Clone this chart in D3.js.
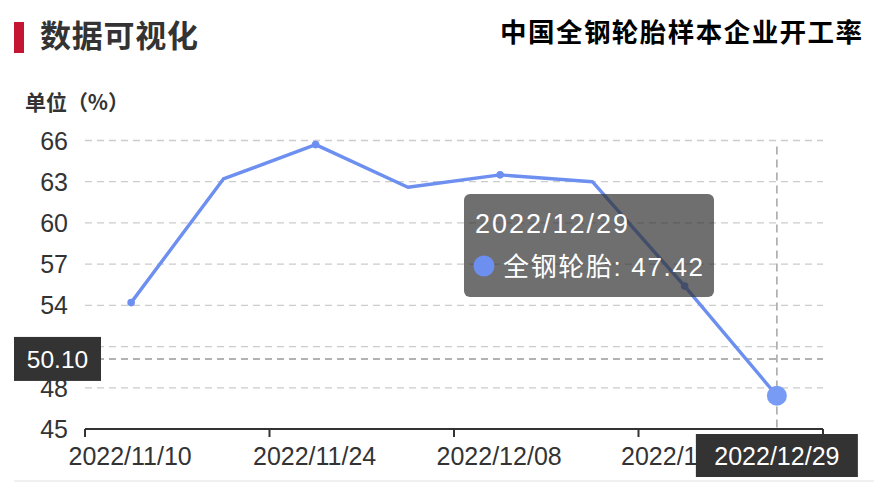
<!DOCTYPE html>
<html><head><meta charset="utf-8">
<script src="https://cdn.jsdelivr.net/npm/d3@7/dist/d3.min.js"></script>
<style>
html,body{margin:0;padding:0;background:#fff;}
svg{display:block;font-family:"Liberation Sans","Noto Sans CJK SC",sans-serif;}
.cjk{font-family:"Noto Sans CJK SC","Liberation Sans",sans-serif;}
</style></head>
<body>
<svg id="chart" width="882" height="482"></svg>
<script>
const categories = ["2022/11/10","2022/11/17","2022/11/24","2022/12/01","2022/12/08","2022/12/15","2022/12/22","2022/12/29"];
const values = [54.2, 63.2, 65.7, 62.6, 63.5, 63.0, 55.4, 47.42];
const yTicks = [45, 48, 51, 54, 57, 60, 63, 66];
const seriesName = "全钢轮胎";
const headerText = "数据可视化";
const titleText = "中国全钢轮胎样本企业开工率";
const unitText = "单位（%）";
const hoverIndex = 7;
const hoverY = 50.10;

(function () {
const svg = d3.select("#chart");
const gLeft = 85, gRight = 823, gTop = 140.5, gBottom = 429;
const x = d3.scaleBand().domain(categories).range([gLeft, gRight]).padding(0);
const y = d3.scaleLinear().domain([45, 66]).range([gBottom, gTop]);
const cx = d => x(d) + x.bandwidth() / 2;
const lineColor = "#6d8ff0";
const hx = cx(categories[hoverIndex]);

// header
svg.append("rect").attr("x", 14).attr("y", 22).attr("width", 10).attr("height", 31).attr("fill", "#c41632");
svg.append("text").attr("class", "cjk").attr("x", 40).attr("y", 47).attr("font-size", 31).attr("font-weight", "bold")
  .attr("fill", "#333").attr("textLength", 158).attr("lengthAdjust", "spacing").text(headerText);
svg.append("text").attr("class", "cjk").attr("x", 500).attr("y", 41.5).attr("font-size", 26.5).attr("font-weight", "bold")
  .attr("fill", "#000").attr("textLength", 362).attr("lengthAdjust", "spacing").text(titleText);
svg.append("text").attr("class", "cjk").attr("x", 25).attr("y", 110).attr("font-size", 21).attr("font-weight", "bold")
  .attr("fill", "#333").attr("textLength", 104).attr("lengthAdjust", "spacing").text(unitText);

// bottom border
svg.append("rect").attr("x", 14).attr("y", 480).attr("width", 860).attr("height", 2).attr("fill", "#f0f0f0");

// grid
svg.append("g").selectAll("line").data(yTicks.filter(t => t !== 45)).join("line")
  .attr("x1", gLeft).attr("x2", gRight).attr("y1", d => y(d)).attr("y2", d => y(d))
  .attr("stroke", "#ccc").attr("stroke-width", 1.3).attr("stroke-dasharray", "7,5");

// y labels (the one under the pointer label is hidden, as in the reference)
const labelBoxTop = y(hoverY) - 22, labelBoxBottom = y(hoverY) + 22;
svg.append("g").selectAll("text").data(yTicks.filter(t => !(y(t) > labelBoxTop && y(t) < labelBoxBottom))).join("text")
  .attr("x", 68).attr("y", d => y(d) + 9).attr("text-anchor", "end")
  .attr("font-size", 25).attr("fill", "#333").text(d => d);

// axis pointer lines
svg.append("line").attr("x1", gLeft).attr("x2", gRight).attr("y1", y(hoverY)).attr("y2", y(hoverY))
  .attr("stroke", "#999").attr("stroke-width", 1.4).attr("stroke-dasharray", "7,5");
svg.append("line").attr("x1", hx).attr("x2", hx)
  .attr("y1", gTop + 6).attr("y2", gBottom).attr("stroke", "#aaa").attr("stroke-width", 1.6).attr("stroke-dasharray", "8,5");

// line series
const line = d3.line().x((d, i) => cx(categories[i])).y(d => y(d));
svg.append("path").datum(values).attr("d", line).attr("fill", "none")
  .attr("stroke", lineColor).attr("stroke-width", 3.4).attr("stroke-linejoin", "round");
svg.append("g").selectAll("circle").data(values.map((v, i) => ({v, i})).filter(d => d.i % 2 === 0)).join("circle")
  .attr("cx", d => cx(categories[d.i])).attr("cy", d => y(d.v)).attr("r", 3.8).attr("fill", lineColor);
svg.append("circle").attr("cx", hx).attr("cy", y(values[hoverIndex])).attr("r", 10)
  .attr("fill", "#789cf6");

// x axis
svg.append("line").attr("x1", gLeft).attr("x2", gRight).attr("y1", gBottom).attr("y2", gBottom)
  .attr("stroke", "#333").attr("stroke-width", 2);
const tickCats = categories.filter((c, i) => i % 2 === 0);
const tickXs = tickCats.map(c => x(c)).concat([gRight]);
svg.append("g").selectAll("line").data(tickXs).join("line")
  .attr("x1", d => d).attr("x2", d => d).attr("y1", gBottom).attr("y2", gBottom + 8)
  .attr("stroke", "#333").attr("stroke-width", 2);
// clip x labels so the part under the pointer label is not drawn
svg.append("defs").append("clipPath").attr("id", "xclip")
  .append("rect").attr("x", 0).attr("y", gBottom).attr("width", hx - 81).attr("height", 60);
svg.append("g").attr("clip-path", "url(#xclip)").selectAll("text").data(tickCats).join("text")
  .attr("x", d => cx(d) - 1).attr("y", 465).attr("text-anchor", "middle")
  .attr("font-size", 25).attr("fill", "#333").text(d => d);

// pointer labels
const yLab = svg.append("g");
yLab.append("rect").attr("x", 14).attr("y", labelBoxTop).attr("width", 87).attr("height", 44).attr("fill", "#333");
yLab.append("text").attr("x", 57.5).attr("y", y(hoverY) + 9).attr("text-anchor", "middle")
  .attr("font-size", 24.5).attr("fill", "#fff").text(hoverY.toFixed(2));
const xLab = svg.append("g");
xLab.append("rect").attr("x", hx - 81).attr("y", 434).attr("width", 162).attr("height", 43).attr("fill", "#333");
xLab.append("text").attr("x", hx).attr("y", 465).attr("text-anchor", "middle")
  .attr("font-size", 25).attr("fill", "#fff").text(categories[hoverIndex]);

// tooltip
const tt = svg.append("g");
tt.append("rect").attr("x", 464).attr("y", 194).attr("width", 250).attr("height", 103).attr("rx", 6)
  .attr("fill", "rgba(50,50,50,0.7)");
tt.append("text").attr("x", 475).attr("y", 233).attr("font-size", 27).attr("fill", "#fff")
  .attr("textLength", 153).attr("lengthAdjust", "spacing").text(categories[hoverIndex]);
tt.append("circle").attr("cx", 484).attr("cy", 266).attr("r", 10.5).attr("fill", lineColor);
tt.append("text").attr("x", 503).attr("y", 276).attr("font-size", 26).attr("fill", "#fff")
  .attr("textLength", 200).attr("lengthAdjust", "spacing").text(seriesName + ": " + values[hoverIndex].toFixed(2));
})();
</script>
</body></html>
